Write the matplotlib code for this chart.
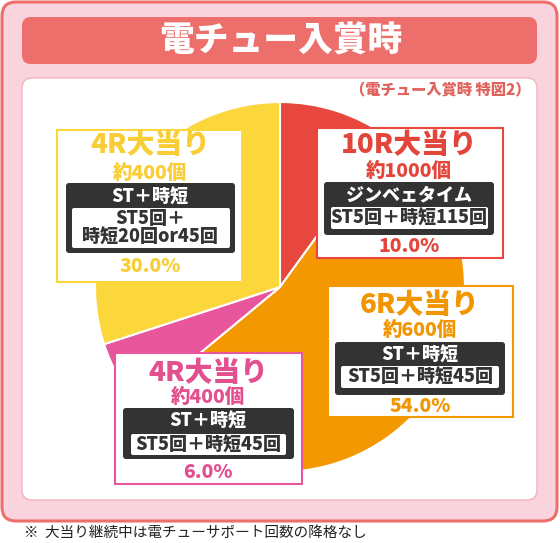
import matplotlib
matplotlib.use("Agg")
from matplotlib import pyplot as plt
from matplotlib.patches import FancyBboxPatch

plt.rcParams['font.family'] = ['Noto Sans CJK JP', 'DejaVu Sans']

# data
labels = ['10R大当り', '6R大当り', '4R大当り', '4R大当り']
shares = [10.0, 54.0, 6.0, 30.0]
balls = ['約1000個', '約600個', '約400個', '約400個']
modes = ['ジンベェタイム', 'ST＋時短', 'ST＋時短', 'ST＋時短']
details = ['ST5回＋時短115回', 'ST5回＋時短45回', 'ST5回＋時短45回', 'ST5回＋\n時短20回or45回']
colors = ['#e8473d', '#f39800', '#e8579b', '#fcd73c']
text_colors = ['#e4453b', '#f19500', '#e2508f', '#f8cd35']

W, H = 560, 543
fig = plt.figure(figsize=(W / 100, H / 100), dpi=100)
ax = fig.add_axes([0, 0, 1, 1])


def rbox(x0, y0, x1, y1, fc, ec='none', lw=0, r=8, z=1):
    p = FancyBboxPatch((x0, y0), x1 - x0, y1 - y0,
                       boxstyle="round,pad=0,rounding_size=%g" % r,
                       fc=fc, ec=ec, lw=lw, zorder=z)
    ax.add_patch(p)


# panels
rbox(2, 2, 557, 521, '#f9d3de', '#ec6f6b', 2.2, r=14)
rbox(22, 17, 537, 64, '#ec6f6b', r=9, z=2)
ax.text(281, 41, '電チュー入賞時', color='white', fontsize=25, fontweight='heavy',
        ha='center', va='center', zorder=3)
rbox(22, 78, 537, 500, 'white', '#f2b3bd', 1, r=10, z=2)
ax.text(531, 90, '（電チュー入賞時 特図2）', color='#e0625c', fontsize=11,
        fontweight='heavy', ha='right', va='center', zorder=3)

# pie (y axis is inverted -> counterclock=True draws clockwise on screen)
ax.pie(shares, colors=colors, startangle=-90, counterclock=True,
       center=(280, 287), radius=185,
       wedgeprops=dict(edgecolor='white', linewidth=1.5, zorder=4))

# label boxes: outer box, dark box, inner white box, text rows
boxes = [
    dict(o=(317, 128, 503, 258), d=(324, 182, 494, 235), i=(331, 207, 488, 229),
         cx=409, ys=(145, 171, 195, 218, 246)),
    dict(o=(328, 286, 513, 417), d=(335, 342, 505, 395), i=(341, 366, 499, 388),
         cx=420, ys=(305, 330, 355, 377, 406)),
    dict(o=(115, 353, 302, 484), d=(123, 408, 294, 459), i=(131, 434, 286, 455),
         cx=208, ys=(373, 397, 421, 445, 473)),
    dict(o=(57, 130, 242, 282), d=(66, 183, 235, 253), i=(72, 208, 230, 248),
         cx=150, ys=(145, 173, 197, 228, 266)),
]

for k, b in enumerate(boxes):
    x0, y0, x1, y1 = b['o']
    ax.add_patch(plt.Rectangle((x0, y0), x1 - x0, y1 - y0, fc='white',
                               ec=colors[k], lw=1.5, zorder=5))
    rbox(*b['d'], '#333333', r=3, z=6)
    rbox(*b['i'], 'white', r=2, z=7)
    cx = b['cx']
    ys = b['ys']
    ax.text(cx, ys[0], labels[k], color=text_colors[k], fontsize=20,
            fontweight='heavy', ha='center', va='center', zorder=8)
    ax.text(cx, ys[1], balls[k], color=text_colors[k], fontsize=14,
            fontweight='heavy', ha='center', va='center', zorder=8)
    ax.text(cx, ys[2], modes[k], color='white', fontsize=13,
            fontweight='heavy', ha='center', va='center', zorder=8)
    ax.text(cx, ys[3], details[k], color='#333333', fontsize=13,
            fontweight='heavy', ha='center', va='center', zorder=8,
            linespacing=1.0)
    ax.text(cx, ys[4], '%.1f%%' % shares[k], color=text_colors[k], fontsize=14,
            fontweight='heavy', ha='center', va='center', zorder=8)

ax.text(24, 533, '※  大当り継続中は電チューサポート回数の降格なし', color='#222222',
        fontsize=10.5, ha='left', va='center')

ax.set_xlim(0, W)
ax.set_ylim(H, 0)
ax.set_aspect('auto')
ax.axis('off')
fig.savefig('out.png', dpi=100)
